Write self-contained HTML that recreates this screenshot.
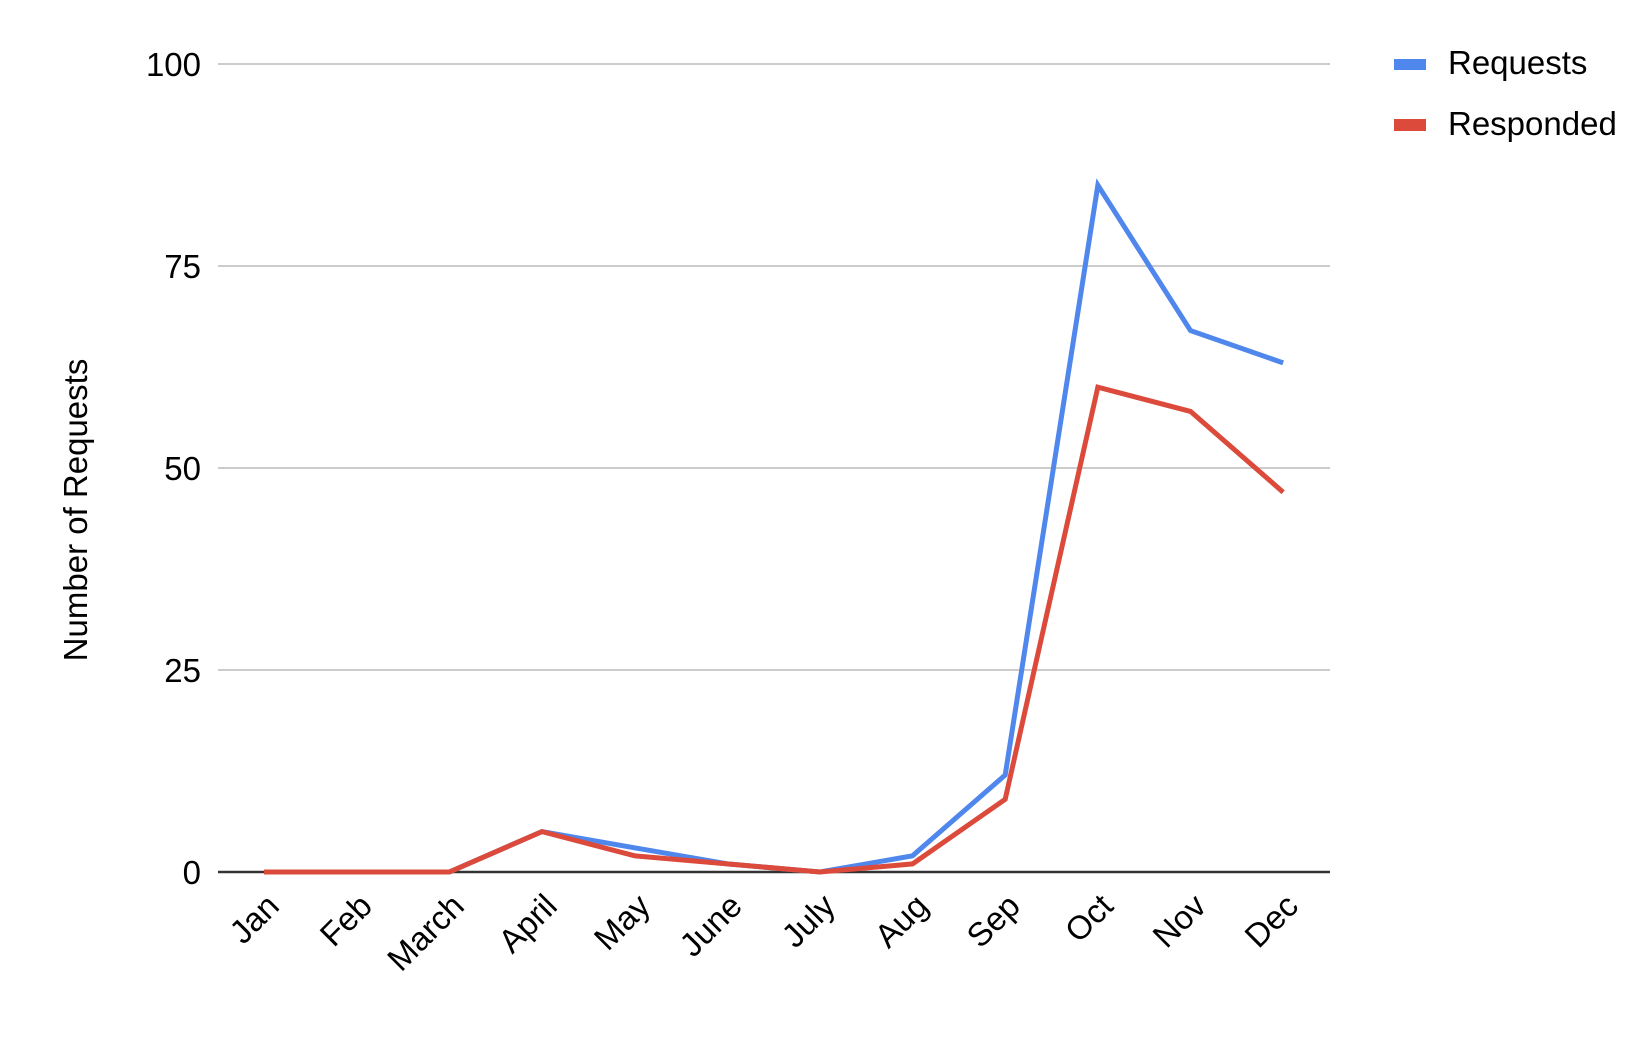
<!DOCTYPE html>
<html>
<head>
<meta charset="utf-8">
<style>
  html, body { margin: 0; padding: 0; background: #ffffff; }
  svg { display: block; }
  text { font-family: "Liberation Sans", Arial, sans-serif; fill: #000000; }
</style>
</head>
<body>
<svg width="1652" height="1060" viewBox="0 0 1652 1060" xmlns="http://www.w3.org/2000/svg">
  <rect x="0" y="0" width="1652" height="1060" fill="#ffffff"/>

  <!-- gridlines -->
  <g stroke="#cccccc" stroke-width="2">
    <line x1="218" y1="64" x2="1330" y2="64"/>
    <line x1="218" y1="266" x2="1330" y2="266"/>
    <line x1="218" y1="468" x2="1330" y2="468"/>
    <line x1="218" y1="670" x2="1330" y2="670"/>
  </g>
  <!-- baseline axis -->
  <line x1="218" y1="872" x2="1330" y2="872" stroke="#333333" stroke-width="2.4"/>

  <!-- y tick labels -->
  <g font-size="33" text-anchor="end">
    <text x="201" y="76">100</text>
    <text x="201" y="278">75</text>
    <text x="201" y="480">50</text>
    <text x="201" y="682">25</text>
    <text x="201" y="884">0</text>
  </g>

  <!-- y axis title -->
  <text x="0" y="0" font-size="33" text-anchor="middle" transform="translate(87,510) rotate(-90)">Number of Requests</text>

  <!-- x tick labels -->
  <g font-size="33" text-anchor="end">
    <text transform="translate(281,908) rotate(-45)">Jan</text>
    <text transform="translate(374,908) rotate(-45)">Feb</text>
    <text transform="translate(466,908) rotate(-45)">March</text>
    <text transform="translate(559,908) rotate(-45)">April</text>
    <text transform="translate(652,908) rotate(-45)">May</text>
    <text transform="translate(744,908) rotate(-45)">June</text>
    <text transform="translate(837,908) rotate(-45)">July</text>
    <text transform="translate(930,908) rotate(-45)">Aug</text>
    <text transform="translate(1022,908) rotate(-45)">Sep</text>
    <text transform="translate(1115,908) rotate(-45)">Oct</text>
    <text transform="translate(1208,908) rotate(-45)">Nov</text>
    <text transform="translate(1300,908) rotate(-45)">Dec</text>
  </g>

  <!-- Requests series (blue) -->
  <polyline fill="none" stroke="#4f87ec" stroke-width="5" stroke-linejoin="miter"
    points="264,872 356.65,872 449.3,872 541.95,831.6 634.6,847.8 727.25,863.9 819.9,872 912.55,855.8 1005.2,775 1097.85,185.2 1190.5,330.6 1283.15,362.9"/>

  <!-- Responded series (red) -->
  <polyline fill="none" stroke="#db4a3b" stroke-width="5" stroke-linejoin="miter"
    points="264,872 356.65,872 449.3,872 541.95,831.6 634.6,855.8 727.25,863.9 819.9,872 912.55,863.9 1005.2,799.3 1097.85,387.2 1190.5,411.4 1283.15,492.2"/>

  <!-- legend -->
  <rect x="1394" y="59" width="32" height="11" fill="#4f87ec"/>
  <text x="1448" y="74" font-size="33">Requests</text>
  <rect x="1394" y="119" width="32" height="12" fill="#db4a3b"/>
  <text x="1448" y="135" font-size="33">Responded</text>
</svg>
</body>
</html>
